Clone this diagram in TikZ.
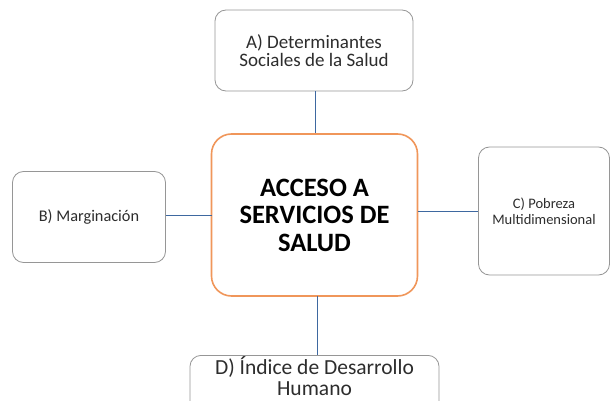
\documentclass[tikz,border=0pt]{standalone}
\usepackage{fontspec}
\setmainfont{Carlito}
\definecolor{linkblue}{RGB}{62,104,160}
\definecolor{boxgray}{RGB}{150,150,150}
\definecolor{centerorange}{RGB}{240,150,90}
\definecolor{txt}{RGB}{45,45,45}
\begin{document}
\begin{tikzpicture}[x=1pt,y=-1pt,
  sidebox/.style={draw=boxgray, line width=0.8pt, rounded corners=11pt, fill=white, text=txt, align=center, inner sep=0pt},
  mainbox/.style={draw=centerorange, line width=1.6pt, rounded corners=20pt, fill=white, align=center, inner sep=0pt, font=\bfseries\fontsize{26.5}{27.5}\selectfont},
  link/.style={draw=linkblue, line width=1pt}]
\useasboundingbox (0,0) rectangle (611,401);
\node[mainbox, minimum width=206pt, minimum height=162pt] (M) at (314.5,215) {ACCESO A\\SERVICIOS DE\\SALUD};
\node[sidebox, minimum width=198pt, minimum height=81pt, font=\fontsize{19}{18}\selectfont] (A) at (314,50.5) {A) Determinantes\\Sociales de la Salud};
\node[sidebox, minimum width=153pt, minimum height=91pt, font=\fontsize{16.3}{19}\selectfont] (B) at (89,217) {B)~Marginación};
\node[sidebox, minimum width=131pt, minimum height=128pt, font=\fontsize{14.5}{16}\selectfont] (C) at (544,211) {C) Pobreza\\Multidimensional};
\node[sidebox, minimum width=249pt, minimum height=62pt, anchor=north] (D) at (314.5,355) {};
\node[text=txt, align=center, font=\fontsize{21.5}{21}\selectfont, anchor=north, inner sep=0pt] (Dt) at (314.5,356) {D) Índice de Desarrollo\\Humano};
\coordinate (Ma) at (315,133);
\coordinate (Md) at (317,296);
\coordinate (Mb) at (211.5,216);
\coordinate (Mc) at (417.5,212);
\draw[link] (A.south -| Ma) -- (Ma);
\draw[link] (Md) -- (D.north -| Md);
\draw[link] (B.east |- Mb) -- (Mb);
\draw[link] (Mc) -- (C.west |- Mc);
\end{tikzpicture}
\end{document}
